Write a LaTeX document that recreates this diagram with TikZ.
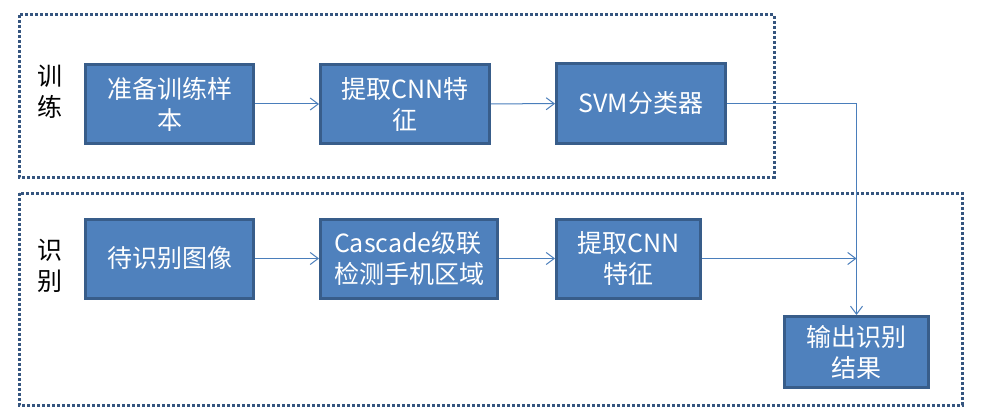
\documentclass[tikz,border=0pt]{standalone}
\usepackage{fontspec}
\setmainfont{Noto Sans CJK SC}
\usetikzlibrary{arrows.meta}
\definecolor{boxfill}{HTML}{4F81BD}
\definecolor{boxline}{HTML}{385D8A}
\definecolor{arrline}{HTML}{4A7EBB}
\definecolor{dotline}{HTML}{35557F}
\tikzset{
  stage/.style={draw=boxline, line width=3pt, fill=boxfill, text=white, inner sep=0pt,
    minimum height=79pt, align=center, font=\fontsize{25}{31}\selectfont},
  group/.style={draw=dotline, line width=3pt, dash pattern=on 3pt off 2pt},
  side/.style={align=center, font=\fontsize{25}{31}\selectfont},
  flow/.style={draw=arrline, line width=1pt, -{Straight Barb[length=8pt,width=12pt]}}
}
\begin{document}
\begin{tikzpicture}[x=1pt,y=-1pt]
\useasboundingbox (0,0) rectangle (987,417);
\draw[group] (19,15) rectangle (774,177);
\draw[group] (19,193) rectangle (962,405);
\node[side] (train) at (50,92) {训\\练};
\node[side] (recog) at (50,266) {识\\别};
\node[stage, minimum width=168pt] (1) at (169.5,104) {准备训练样\\本};
\node[stage, minimum width=169pt] (2) at (405,104) {提取CNN特\\征};
\node[stage, minimum width=169pt] (3) at (641,103.5) {SVM分类器};
\node[stage, minimum width=168pt] (4) at (169.5,258.5) {待识别图像};
\node[stage, minimum width=177pt, align=left] (5) at (409,258.5) {Cascade级联\\检测手机区域};
\node[stage, minimum width=144pt] (6) at (628.5,258.5) {提取CNN\\特征};
\node[stage, minimum width=144pt, minimum height=71pt] (7) at (856.5,352) {输出识别\\结果};
\coordinate (join) at (7.north |- 6.east);
\path[flow] (1) -- (2);
\path[flow] (2) -- (3);
\path[flow] (3.east) -| (7.north);
\path[flow] (4) -- (5);
\path[flow] (5) -- (6);
\path[flow] (6.east) -- (join);
\end{tikzpicture}
\end{document}
